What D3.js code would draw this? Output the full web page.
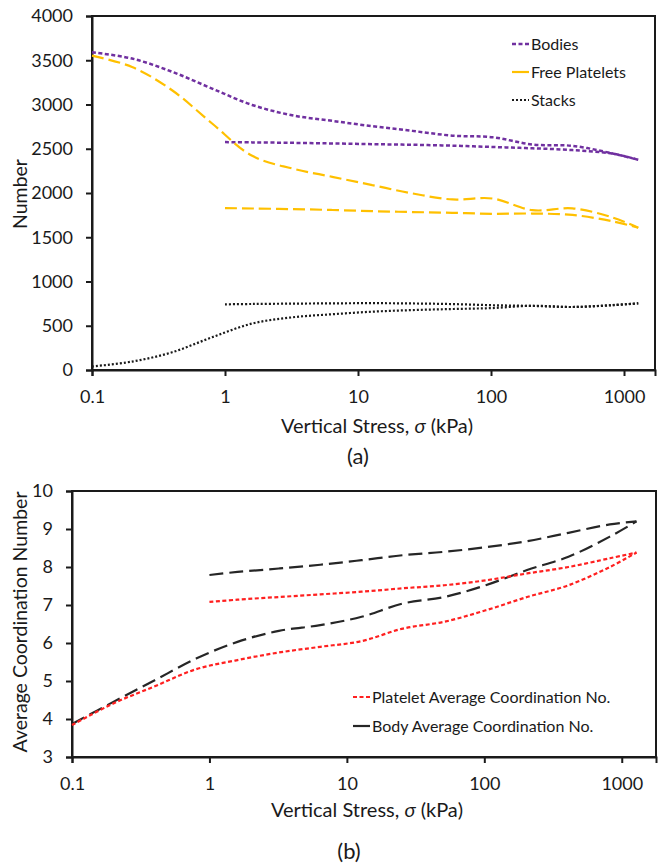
<!DOCTYPE html>
<html>
<head>
<meta charset="utf-8">
<script src="https://cdn.jsdelivr.net/npm/d3@7"></script>
<style>
  body { margin: 0; background: #fff; }
  svg text { font-family: Lato, "Open Sans", sans-serif; fill: #1a1a1a; }
</style>
</head>
<body>
<svg id="chart" width="658" height="864"></svg>
<script>
// stress steps (kPa)
let loadStress = [0.1, 0.2, 0.4, 0.8, 1.6, 3.2, 6.4, 12.8, 25.6, 51.2, 102.4, 204.8, 409.6, 819.2, 1280];
let unloadStress = [1, 1.6, 3.2, 6.4, 12.8, 25.6, 51.2, 102.4, 204.8, 409.6, 819.2, 1280];

// (a) counts
let bodiesLoad = [3590, 3519, 3370, 3180, 2995, 2878, 2815, 2755, 2702, 2648, 2630, 2548, 2533, 2447, 2375];
let bodiesUnload = [2575, 2572, 2567, 2560, 2552, 2545, 2535, 2520, 2505, 2485, 2445, 2375];
let plateletsLoad = [3552, 3424, 3161, 2785, 2420, 2277, 2183, 2089, 1995, 1927, 1938, 1806, 1826, 1724, 1608];
let plateletsUnload = [1830, 1825, 1818, 1808, 1795, 1785, 1776, 1765, 1768, 1752, 1680, 1608];
let stacksLoad = [40, 95, 200, 370, 525, 595, 630, 659, 677, 689, 700, 726, 712, 734, 753];
let stacksUnload = [742, 746, 750, 753, 755, 752, 745, 732, 724, 712, 732, 753];

// (b) average coordination numbers
let plateletCnLoad = [3.84, 4.41, 4.86, 5.31, 5.55, 5.75, 5.90, 6.05, 6.38, 6.56, 6.86, 7.21, 7.52, 8.00, 8.38];
let plateletCnUnload = [7.08, 7.14, 7.21, 7.28, 7.35, 7.44, 7.52, 7.65, 7.83, 8.00, 8.23, 8.38];
let bodyCnLoad = [3.87, 4.45, 5.02, 5.59, 6.03, 6.32, 6.47, 6.69, 7.04, 7.21, 7.52, 7.92, 8.27, 8.80, 9.20];
let bodyCnUnload = [7.79, 7.87, 7.96, 8.06, 8.18, 8.31, 8.40, 8.52, 8.68, 8.90, 9.12, 9.20];

let xTicks = [0.1, 1, 10, 100, 1000];
let countTicks = [0, 500, 1000, 1500, 2000, 2500, 3000, 3500, 4000];
let cnTicks = [3, 4, 5, 6, 7, 8, 9, 10];

let legendA = ["Bodies", "Free Platelets", "Stacks"];
let legendB = ["Platelet Average Coordination No.", "Body Average Coordination No."];

let purple = "#7030a0";
let orange = "#ffc000";
let red = "#ff2020";
let black = "#1a1a1a";

let svg = d3.select("#chart");

function pairUp(xs, ys) {
  return xs.map((x, i) => [x, ys[i]]);
}

function drawPanel(cfg) {
  let x = d3.scaleLog().domain(cfg.xDomain).range([cfg.left, cfg.right]);
  let y = d3.scaleLinear().domain(cfg.yDomain).range([cfg.bottom, cfg.top]);

  // plot frame
  svg.append("rect")
    .attr("x", cfg.left).attr("y", cfg.top)
    .attr("width", cfg.right - cfg.left).attr("height", cfg.bottom - cfg.top)
    .attr("fill", "none").attr("stroke", black).attr("stroke-width", 2);

  let xAxis = svg.append("g")
    .attr("transform", "translate(0," + cfg.bottom + ")")
    .call(d3.axisBottom(x).tickValues(xTicks).tickFormat(d => String(d)).tickSize(6).tickPadding(14));
  let yAxis = svg.append("g")
    .attr("transform", "translate(" + cfg.left + ",0)")
    .call(d3.axisLeft(y).tickValues(cfg.yTicks).tickFormat(d3.format("d")).tickSize(6).tickPadding(cfg.yPad));
  [xAxis, yAxis].forEach(g => {
    g.select(".domain").attr("stroke", black).attr("stroke-width", 2);
    g.selectAll(".tick line").attr("stroke", black).attr("stroke-width", 2);
    g.selectAll(".tick text").style("font-size", "18px").attr("fill", "#1a1a1a");
  });

  let line = d3.line()
    .x(d => x(d[0]))
    .y(d => y(d[1]))
    .curve(d3.curveCatmullRom.alpha(0.5));

  cfg.series.forEach(s => {
    svg.append("path")
      .attr("d", line(s.points))
      .attr("fill", "none")
      .attr("stroke", s.color)
      .attr("stroke-width", s.width)
      .attr("stroke-dasharray", s.dash);
  });

  // axis titles
  let xt = svg.append("text")
    .attr("x", cfg.xTitleX).attr("y", cfg.xTitleY)
    .attr("text-anchor", "middle")
    .style("font-size", "20px");
  xt.append("tspan").text("Vertical Stress, ");
  xt.append("tspan").style("font-style", "italic").text("σ");
  xt.append("tspan").text(" (kPa)");

  svg.append("text")
    .attr("transform", "translate(" + cfg.yTitleX + "," + cfg.yTitleY + ") rotate(-90)")
    .attr("text-anchor", "middle")
    .style("font-size", "19.5px")
    .text(cfg.yTitle);

  svg.append("text")
    .attr("x", cfg.panelX).attr("y", cfg.panelY)
    .attr("text-anchor", "middle")
    .style("font-size", "22px")
    .text(cfg.panel);

  // legend
  cfg.legend.forEach((name, i) => {
    let ly = cfg.legendY + i * cfg.legendGap;
    let st = cfg.legendStyles[i];
    svg.append("line")
      .attr("x1", cfg.legendX).attr("x2", cfg.legendX + 17)
      .attr("y1", ly).attr("y2", ly)
      .attr("stroke", st.color).attr("stroke-width", st.width)
      .attr("stroke-dasharray", st.dash);
    svg.append("text")
      .attr("x", cfg.legendX + 19).attr("y", ly)
      .attr("dy", "0.35em")
      .style("font-size", "16px")
      .text(name);
  });
}

let bodyStyle = { color: purple, width: 2.5, dash: "4,2.5" };
let plateletStyle = { color: orange, width: 2.2, dash: "12,5" };
let stackStyle = { color: black, width: 2.2, dash: "2,2" };

drawPanel({
  left: 92, right: 655, top: 16, bottom: 370,
  xDomain: [0.1, 1710], yDomain: [0, 4000], yTicks: countTicks, yPad: 13,
  yTitle: "Number", yTitleX: 27, yTitleY: 194,
  xTitleX: 377, xTitleY: 433, panel: "(a)", panelX: 358, panelY: 464,
  series: [
    Object.assign({ points: pairUp(loadStress, bodiesLoad) }, bodyStyle),
    Object.assign({ points: pairUp(unloadStress, bodiesUnload) }, bodyStyle),
    Object.assign({ points: pairUp(loadStress, plateletsLoad) }, plateletStyle),
    Object.assign({ points: pairUp(unloadStress, plateletsUnload) }, plateletStyle),
    Object.assign({ points: pairUp(loadStress, stacksLoad) }, stackStyle),
    Object.assign({ points: pairUp(unloadStress, stacksUnload) }, stackStyle)
  ],
  legend: legendA, legendX: 512, legendY: 44, legendGap: 28,
  legendStyles: [bodyStyle, { color: orange, width: 2.2, dash: null }, stackStyle]
});

let redStyle = { color: red, width: 2.2, dash: "4,2.5" };
let blackStyle = { color: "#262626", width: 2.2, dash: "14,6" };

drawPanel({
  left: 72, right: 656, top: 491, bottom: 757,
  xDomain: [0.1, 1775], yDomain: [3, 10], yTicks: cnTicks, yPad: 13,
  yTitle: "Average Coordination Number", yTitleX: 27, yTitleY: 622,
  xTitleX: 367, xTitleY: 817, panel: "(b)", panelX: 349, panelY: 859,
  series: [
    Object.assign({ points: pairUp(loadStress, bodyCnLoad) }, blackStyle),
    Object.assign({ points: pairUp(unloadStress, bodyCnUnload) }, blackStyle),
    Object.assign({ points: pairUp(loadStress, plateletCnLoad) }, redStyle),
    Object.assign({ points: pairUp(unloadStress, plateletCnUnload) }, redStyle)
  ],
  legend: legendB, legendX: 353, legendY: 697, legendGap: 29,
  legendStyles: [redStyle, { color: "#262626", width: 2.2, dash: null }]
});
</script>
</body>
</html>
